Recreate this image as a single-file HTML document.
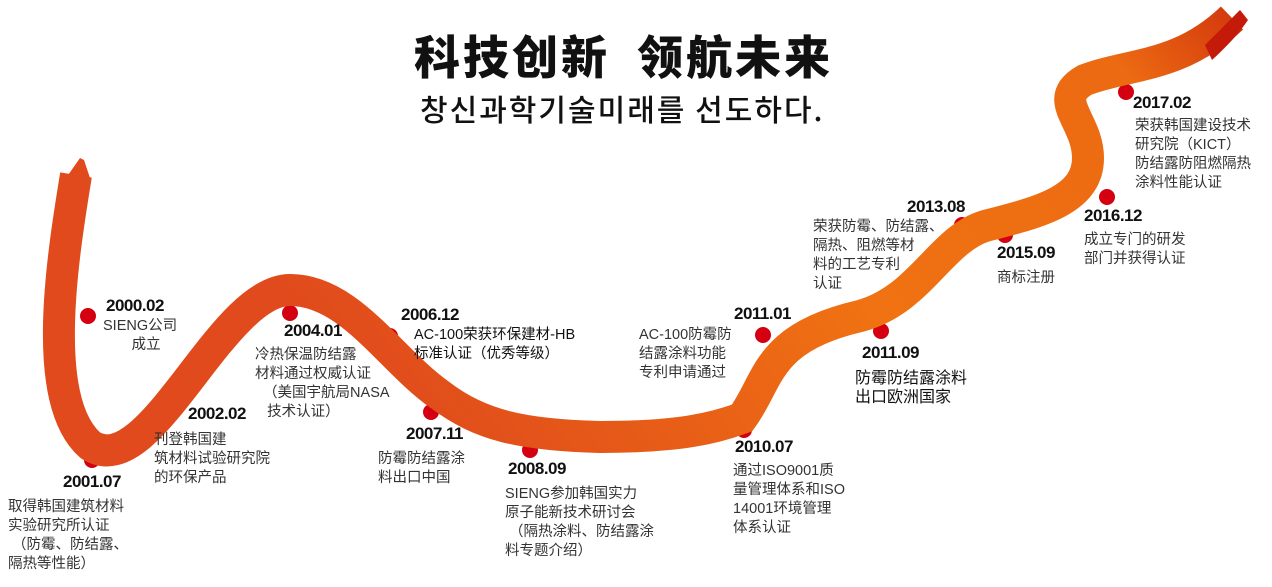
<!DOCTYPE html>
<html><head><meta charset="utf-8"><style>
body{margin:0;width:1272px;height:587px;background:#fff;position:relative;overflow:hidden;font-family:"Liberation Sans","Noto Sans CJK SC",sans-serif;}
.t{position:absolute;font-size:14.5px;line-height:19px;color:#333;white-space:nowrap;}
.d{position:absolute;font-family:"Liberation Sans Narrow","Liberation Sans",sans-serif;font-weight:bold;font-size:17px;color:#111;letter-spacing:-0.5px;}
</style></head><body>
<svg width="1272" height="587" style="position:absolute;left:0;top:0">
<defs><linearGradient id="g" x1="0" y1="0" x2="1" y2="-0.3">
<stop offset="0" stop-color="#e04a1c"/><stop offset="0.45" stop-color="#f07212"/><stop offset="0.8" stop-color="#ec6a12"/><stop offset="1" stop-color="#c41a0a"/></linearGradient></defs>
<g fill="#d40012">
<circle cx="88" cy="316" r="8"/><circle cx="92" cy="460" r="8"/><circle cx="177" cy="406" r="8"/><circle cx="290" cy="313" r="8"/><circle cx="390" cy="336" r="8"/><circle cx="431" cy="412" r="8"/><circle cx="530" cy="450" r="8"/><circle cx="744" cy="430" r="8"/><circle cx="763" cy="335" r="8"/><circle cx="881" cy="331" r="8"/><circle cx="962" cy="225" r="8"/><circle cx="1005" cy="235" r="8"/><circle cx="1107" cy="197" r="8"/><circle cx="1126" cy="92" r="8"/>
</g>
<path d="M 76 175 C 62 260, 40 400, 90 445 C 150 485, 220 290, 290 290 C 350 290, 390 360, 440 395 C 480 425, 520 435, 600 437 C 680 437, 715 428, 742 418 C 770 380, 765 338, 860 316 C 920 300, 940 240, 985 226 C 1040 212, 1088 200, 1088 158 C 1088 120, 1050 100, 1085 80 C 1130 63, 1180 68, 1232 18" fill="none" stroke="url(#g)" stroke-width="32" stroke-linecap="butt"/>
<path d="M 66 178 L 80 158 L 84 160 L 90 178 Z" fill="#e04a1c"/>
<path d="M 1205 45 C 1220 30, 1232 18, 1240 10 L 1248 20 C 1238 35, 1225 48, 1212 60 Z" fill="#c41a0a"/>
</svg>
<div style="position:absolute;left:414px;top:26px;font-size:46px;font-weight:900;color:#111;font-family:'Noto Sans CJK SC',sans-serif;letter-spacing:3px;line-height:58px">科技创新&nbsp;&nbsp;领航未来</div>
<div style="position:absolute;left:420px;top:88px;font-size:30px;color:#111;font-family:'Noto Sans CJK KR',sans-serif;line-height:40px;font-weight:500;letter-spacing:2px">창신과학기술미래를 선도하다.</div>
<div class="d" style="left:106px;top:296px">2000.02</div>
<div class="t" style="left:103px;top:317px;text-align:center">SIENG公司<br>&nbsp;&nbsp;&nbsp;成立</div>
<div class="d" style="left:63px;top:472px">2001.07</div>
<div class="t" style="left:8px;top:498px">取得韩国建筑材料<br>实验研究所认证<br>&nbsp;（防霉、防结露、<br>隔热等性能）</div>
<div class="d" style="left:188px;top:404px">2002.02</div>
<div class="t" style="left:154px;top:431px">刊登韩国建<br>筑材料试验研究院<br>的环保产品</div>
<div class="d" style="left:284px;top:321px">2004.01</div>
<div class="t" style="left:255px;top:346px">冷热保温防结露<br>材料通过权威认证<br>&nbsp;&nbsp;（美国宇航局NASA<br>&nbsp;&nbsp;&nbsp;技术认证）</div>
<div class="d" style="left:401px;top:305px">2006.12</div>
<div class="t" style="left:414px;top:326px;color:#111">AC-100荣获环保建材-HB<br>标准认证（优秀等级）</div>
<div class="d" style="left:406px;top:424px">2007.11</div>
<div class="t" style="left:378px;top:450px">防霉防结露涂<br>料出口中国</div>
<div class="d" style="left:508px;top:459px">2008.09</div>
<div class="t" style="left:505px;top:485px">SIENG参加韩国实力<br>原子能新技术研讨会<br>&nbsp;（隔热涂料、防结露涂<br>料专题介绍）</div>
<div class="d" style="left:735px;top:437px">2010.07</div>
<div class="t" style="left:733px;top:462px">通过ISO9001质<br>量管理体系和ISO<br>14001环境管理<br>体系认证</div>
<div class="d" style="left:734px;top:304px">2011.01</div>
<div class="t" style="left:639px;top:326px">AC-100防霉防<br>结露涂料功能<br>专利申请通过</div>
<div class="d" style="left:862px;top:343px">2011.09</div>
<div class="t" style="left:855px;top:369px;font-size:16px;color:#111">防霉防结露涂料<br>出口欧洲国家</div>
<div class="d" style="left:907px;top:197px">2013.08</div>
<div class="t" style="left:813px;top:218px">荣获防霉、防结露、<br>隔热、阻燃等材<br>料的工艺专利<br>认证</div>
<div class="d" style="left:997px;top:243px">2015.09</div>
<div class="t" style="left:997px;top:269px">商标注册</div>
<div class="d" style="left:1084px;top:206px">2016.12</div>
<div class="t" style="left:1084px;top:231px">成立专门的研发<br>部门并获得认证</div>
<div class="d" style="left:1133px;top:93px">2017.02</div>
<div class="t" style="left:1135px;top:117px">荣获韩国建设技术<br>研究院（KICT）<br>防结露防阻燃隔热<br>涂料性能认证</div>
</body></html>
